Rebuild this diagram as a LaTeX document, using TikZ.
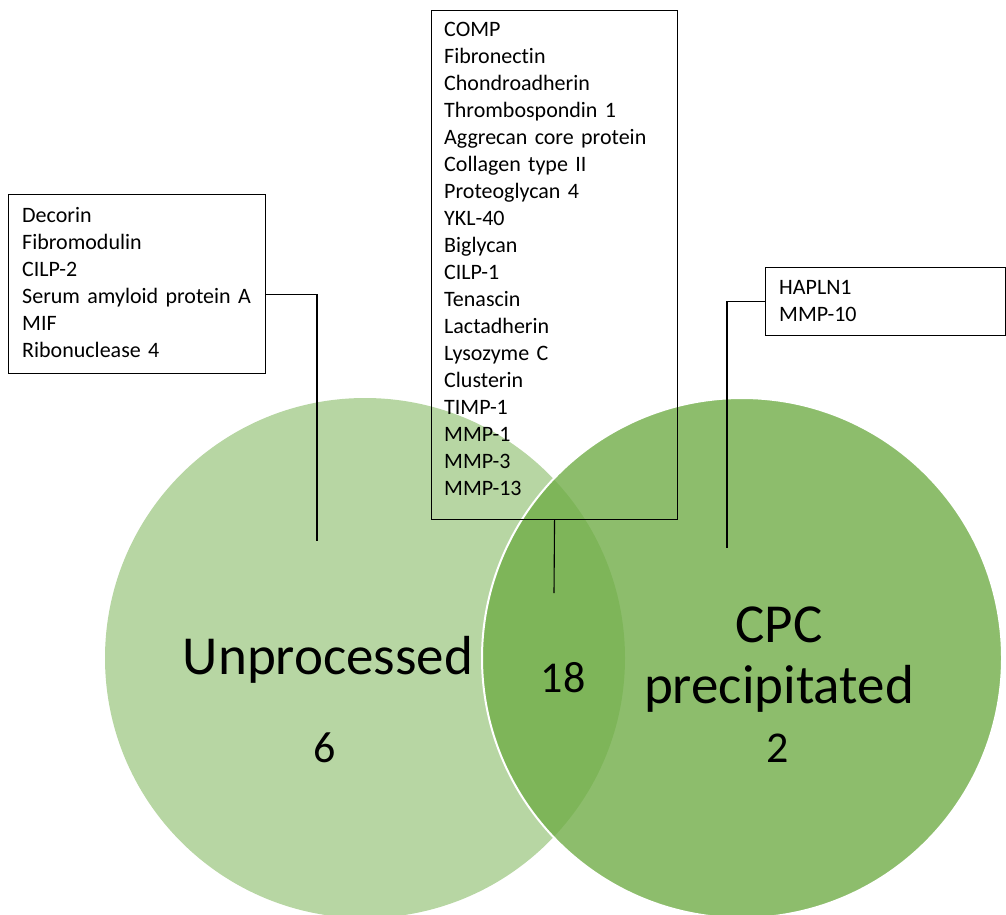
\documentclass[tikz,border=0pt]{standalone}
\usepackage{fontspec}
\setmainfont{Carlito}[Ligatures=NoCommon]
\usepackage{tikz}
\usetikzlibrary{positioning}
\definecolor{venngreen}{HTML}{70AD47}
\tikzset{%
  venn/.style = {circle,minimum size=520pt,inner sep=0pt,
        fill=venngreen},
  listbox/.style = {rectangle,draw=black,line width=1.1pt,
        inner sep=0pt,anchor=north west},
  listtext/.style = {anchor=base west,inner sep=0pt,text width=240pt,
        align=left,font=\fontsize{22}{27}\selectfont},
  leader/.style = {draw=black,line width=1.1pt},
  big/.style = {anchor=base,inner sep=0pt,font=\fontsize{55}{61}\selectfont},
  tally/.style = {anchor=base,inner sep=0pt,font=\fontsize{44}{50}\selectfont}
}

\begin{document}
\begin{tikzpicture}[x=1pt,y=-1pt]
                \useasboundingbox (0,0) rectangle (1006,914);
                \clip (0,0) rectangle (1006,914);
                % circles
                \node[venn, fill opacity=0.5] (unproc) at (365,658) {};
                \node[venn, fill opacity=0.8, draw=white, line width=2pt] (cpc) at (742,658) {};
                % boxes with the protein lists
                \node[listbox, minimum width=257pt, minimum height=179pt] (unprocbox) at (8,194) {};
                \node[listbox, minimum width=246pt, minimum height=509pt] (sharedbox) at (431,10) {};
                \node[listbox, minimum width=240pt, minimum height=68pt] (cpcbox) at (765,267) {};
                \node[listtext] (unproclist) at ([xshift=14pt,yshift=-28pt]unprocbox.north west)
                    {Decorin\\Fibromodulin\\CILP-2\\Serum amyloid protein A\\MIF\\Ribonuclease 4};
                \node[listtext] (sharedlist) at ([xshift=13pt,yshift=-26pt]sharedbox.north west)
                    {COMP\\Fibronectin\\Chondroadherin\\Thrombospondin 1\\Aggrecan core protein\\
                     Collagen type II\\Proteoglycan 4\\YKL-40\\Biglycan\\CILP-1\\Tenascin\\
                     Lactadherin\\Lysozyme C\\Clusterin\\TIMP-1\\MMP-1\\MMP-3\\MMP-13};
                \node[listtext] (cpclist) at ([xshift=14pt,yshift=-27pt]cpcbox.north west)
                    {HAPLN1\\MMP-10};
                % leader lines
                \coordinate (unprocpin) at (317,541);
                \coordinate (sharedpin) at (554,593);
                \coordinate (cpcpin) at (727,548);
                \draw[leader] ([yshift=-10pt]unprocbox.east) -| (unprocpin);
                \draw[leader] (sharedbox.south) -- (sharedpin);
                \draw[leader] (cpcbox.west) -| (cpcpin);
                % set labels and counts
                \node[big] (unproclabel) at (328,674) {Unprocessed};
                \node[tally] (unproccount) at (325,762) {6};
                \node[tally] (sharedcount) at (563,692) {18};
                \node[big, text width=320pt, align=center] (cpclabel) at (779,642) {CPC\\precipitated};
                \node[tally] (cpccount) at (778,762) {2};
            \end{tikzpicture}
\end{document}
